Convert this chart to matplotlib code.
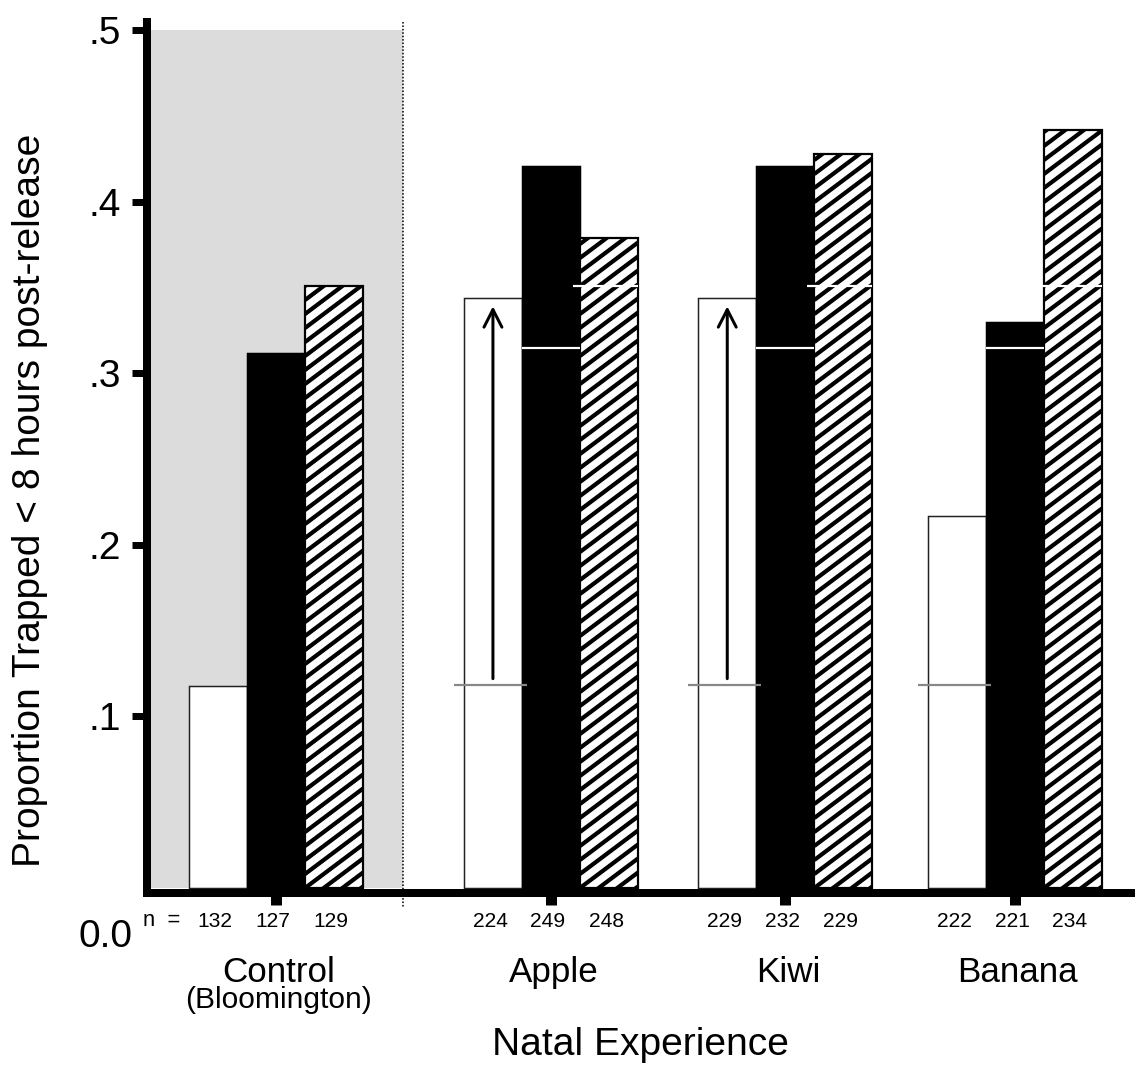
import numpy as np
import matplotlib
matplotlib.use("Agg")
import matplotlib.pyplot as plt
from matplotlib.patches import Rectangle
from matplotlib.collections import LineCollection
import matplotlib.transforms as mtransforms

# ---------------- data ----------------
groups = ["Control", "Apple", "Kiwi", "Banana"]
white_vals = [0.118, 0.344, 0.344, 0.217]
black_vals = [0.312, 0.421, 0.421, 0.330]
hatch_vals = [0.351, 0.379, 0.428, 0.442]
n_white = [132, 224, 229, 222]
n_black = [127, 249, 232, 221]
n_hatch = [129, 248, 229, 234]
control_ref = [0.1185, 0.315, 0.351]      # reference levels (white, black, hatched)
arrow_from = 0.122
arrow_to = 0.339
arrow_groups = ["Apple", "Kiwi"]
y_ticks = [0.1, 0.2, 0.3, 0.4, 0.5]
y_ticklabels = [".1", ".2", ".3", ".4", ".5"]

# ---------------- layout ----------------
dpi = 140
W, H = 1135, 1067
PT = 72.0 / dpi
plt.rcParams["font.family"] = ["Liberation Sans", "DejaVu Sans"]

fig = plt.figure(figsize=(W / dpi, H / dpi), dpi=dpi)


def fx(px):
    return px / W


def fy(py):
    return 1 - py / H


ax = fig.add_axes([fx(146.5), fy(893), fx(1135) - fx(146.5), fy(22) - fy(893)])
group_x = [0.0, 4.74, 8.78, 12.74]
bw = 1.0
ax.set_xlim(-2.233, 14.81)
ax.set_ylim(-0.0029, 0.5047)

# pixel scales of the data axes
p0 = ax.transData.transform((0, 0))
sx = ax.transData.transform((1, 0))[0] - p0[0]
sy = ax.transData.transform((0, 1))[1] - p0[1]

# shaded control region + dotted separator
sep_x = 2.19
ax.add_patch(Rectangle((-2.233, 0), sep_x + 2.233, 0.5, facecolor="#dcdcdc",
                       edgecolor="none", zorder=0))
ax.plot([sep_x, sep_x], [0.5047, -0.011], color="black", lw=0.8,
        linestyle=(0, (1, 1.2)), clip_on=False, zorder=1)

xw = [x - bw for x in group_x]
xb = list(group_x)
xh = [x + bw for x in group_x]

ax.bar(xw, white_vals, width=bw, color="white", edgecolor="#222222",
       linewidth=1.5 * PT, zorder=2)
ax.bar(xb, black_vals, width=bw, color="black", edgecolor="black",
       linewidth=1.5 * PT, zorder=2)
hbars = ax.bar(xh, hatch_vals, width=bw, color="white", edgecolor="none",
               zorder=2)

# diagonal stripes (about 37 degrees) clipped to each hatched bar
slope = 0.75          # rise / run in pixels
vper = 14.0           # vertical period in pixels
for rect in hbars:
    x0, w = rect.get_x(), rect.get_width()
    h = rect.get_height()
    wpx, hpx = w * sx, h * sy
    kmin = -int(np.ceil(wpx * slope / vper)) - 1
    kmax = int(np.ceil(hpx / vper)) + 1
    segs = []
    for k in range(kmin, kmax + 1):
        ya = (k * vper) / sy
        yb = (k * vper + slope * wpx) / sy
        segs.append([(x0, ya), (x0 + w, yb)])
    lc = LineCollection(segs, colors="black", linewidths=4.2 * PT, zorder=2.5,
                        capstyle="butt")
    ax.add_collection(lc)
    lc.set_clip_path(rect)
ax.bar(xh, hatch_vals, width=bw, fill=False, edgecolor="black",
       linewidth=2.2 * PT, zorder=2.6)

# reference lines in experimental groups
for i in range(1, len(groups)):
    ax.plot([xw[i] - 0.5 - 0.17, xw[i] + 0.5 + 0.08], [control_ref[0]] * 2,
            color="#888888", lw=2.2 * PT, zorder=3, solid_capstyle="butt")
    ax.plot([xb[i] - 0.5, xb[i] + 0.5], [control_ref[1]] * 2,
            color="white", lw=2.2 * PT, zorder=3, solid_capstyle="butt")
    ax.plot([xh[i] - 0.5 - 0.12, xh[i] + 0.5], [control_ref[2]] * 2,
            color="white", lw=2.2 * PT, zorder=3, solid_capstyle="butt")

# arrows
for g in arrow_groups:
    i = groups.index(g)
    ax.annotate("", xy=(xw[i], arrow_to), xytext=(xw[i], arrow_from),
                arrowprops=dict(arrowstyle="->,head_length=0.45,head_width=0.23",
                                lw=3 * PT, color="black", mutation_scale=39 * PT,
                                shrinkA=0, shrinkB=0),
                zorder=4)

# spines
for s in ["top", "right"]:
    ax.spines[s].set_visible(False)
ax.spines["left"].set_linewidth(8 * PT)
ax.spines["bottom"].set_linewidth(8 * PT)
ax.spines["bottom"].set_capstyle("projecting")
ax.spines["left"].set_zorder(5)
ax.spines["bottom"].set_zorder(5)

ax.set_yticks(y_ticks)
ax.set_yticklabels(y_ticklabels)
ax.tick_params(axis="y", length=15 * PT, width=7 * PT, pad=11 * PT,
               labelsize=39 * PT, direction="out")
ax.set_xticks(xb)
ax.set_xticklabels([])
ax.tick_params(axis="x", length=12 * PT, width=11 * PT, direction="out")

# texts below the axis
trans = mtransforms.blended_transform_factory(ax.transData, fig.transFigure)
fig.text(fx(132), fy(947), "0.0", ha="right", va="baseline", fontsize=39 * PT)
fig.text(fx(143), fy(926), "n  =", ha="left", va="baseline", fontsize=22 * PT)
for i in range(len(groups)):
    for x, n in ((xw[i], n_white[i]), (xb[i], n_black[i]), (xh[i], n_hatch[i])):
        ax.text(x - 0.05, fy(927), str(n), transform=trans, ha="center",
                va="baseline", fontsize=21 * PT)
    ax.text(xb[i] + 0.05, fy(982), groups[i], transform=trans, ha="center",
            va="baseline", fontsize=35 * PT)
ax.text(xb[0] + 0.05, fy(1008), "(Bloomington)", transform=trans, ha="center",
        va="baseline", fontsize=30 * PT)

fig.text(fx(640), fy(1055), "Natal Experience", ha="center", va="baseline",
         fontsize=39 * PT)
fig.text(fx(30), fy(500), "Proportion Trapped < 8 hours post-release",
         rotation=90, ha="center", va="center", fontsize=39 * PT)

fig.savefig("out.png", dpi=dpi)
